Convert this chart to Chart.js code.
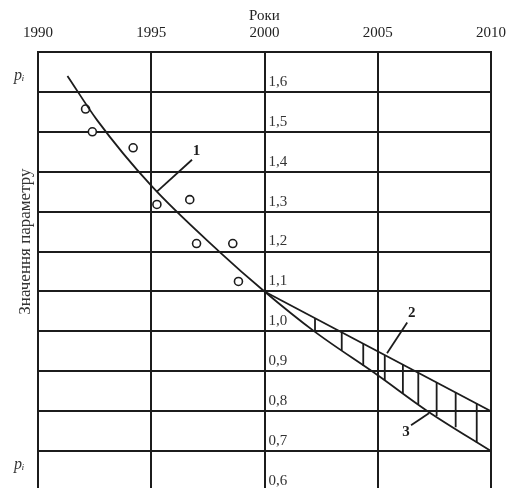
<!DOCTYPE html>
<html><head><meta charset="utf-8">
<script src="https://cdn.jsdelivr.net/npm/chart.js@4/dist/chart.umd.min.js"></script>
<style>html,body{margin:0;padding:0;background:#fff;overflow:hidden}canvas{display:block}</style>
</head><body>
<canvas id="c" width="508" height="488"></canvas>
<script>
// ---- data ----
const xTickYears = [1990, 1995, 2000, 2005, 2010];
const yTickValues = [0.6, 0.7, 0.8, 0.9, 1.0, 1.1, 1.2, 1.3, 1.4, 1.5, 1.6];
const yTickLabels = ['0,6', '0,7', '0,8', '0,9', '1,0', '1,1', '1,2', '1,3', '1,4', '1,5', '1,6'];
const pMarkValues = [0.665, 1.64];
const pMarkLabels = ['pᵢ', 'pᵢ'];
const curveYears = [1991.3, 1992.6, 1995.0, 1998.0, 2000.0, 2002.2, 2005.0, 2007.2, 2010.0];
const curveValues = [1.64, 1.53, 1.365, 1.20, 1.10, 1.00, 0.89, 0.80, 0.70];
const line2Years = [2000, 2010];
const line2Values = [1.10, 0.80];
const hatchYears = [2002.23, 2003.41, 2004.36, 2005.31, 2006.11, 2006.79, 2007.60, 2008.44, 2009.37];
const hatchTop = [1.033, 0.998, 0.969, 0.941, 0.917, 0.896, 0.872, 0.847, 0.819];
const hatchBottom = [1.001, 0.952, 0.914, 0.877, 0.845, 0.818, 0.788, 0.760, 0.721];
const obsYears = [1992.1, 1992.4, 1994.2, 1995.25, 1996.7, 1997.0, 1998.6, 1998.85];
const obsValues = [1.557, 1.50, 1.46, 1.318, 1.33, 1.22, 1.22, 1.125];
const calloutLabels = ['1', '2', '3'];
const calloutTextYears = [1997.0, 2006.5, 2006.25];
const calloutTextValues = [1.452, 1.045, 0.748];
const leaderFromYears = [1995.25, 2005.41, 2006.47];
const leaderFromValues = [1.35, 0.945, 0.765];
const leaderToYears = [1996.80, 2006.30, 2007.26];
const leaderToValues = [1.43, 1.0225, 0.795];
const yTitle = 'Значення параметру';
const xTitle = 'Роки';

const INK = '#1c1c1c';
const SERIF = "'Liberation Serif', 'Times New Roman', serif";

const pts = (xs, ys) => xs.map((x, i) => ({x: x, y: ys[i]}));
const lineDs = (data, w) => ({type: 'line', data, borderColor: INK, borderWidth: w, pointRadius: 0, fill: false, tension: 0});

const datasets = [];
datasets.push(Object.assign(lineDs(pts(curveYears, curveValues), 1.8), {tension: 0.4, cubicInterpolationMode: 'monotone'}));
datasets.push(lineDs(pts(line2Years, line2Values), 1.8));
hatchYears.forEach((yr, i) => datasets.push(lineDs([{x: yr, y: hatchTop[i]}, {x: yr, y: hatchBottom[i]}], 1.8)));
leaderFromYears.forEach((yr, i) => datasets.push(lineDs([{x: yr, y: leaderFromValues[i]}, {x: leaderToYears[i], y: leaderToValues[i]}], 1.8)));
datasets.push({type: 'line', data: pts(obsYears, obsValues), showLine: false, pointRadius: 4, pointBorderWidth: 1.6,
  pointBorderColor: INK, pointBackgroundColor: '#fff', pointStyle: 'circle'});

const textPlugin = {
  id: 'texts',
  afterLayout(chart) {
    // the plot area runs on past the lower edge of the picture (0,6 line just below it)
    const b = chart.height + 3;
    chart.chartArea.bottom = b;
    chart.chartArea.height = b - chart.chartArea.top;
    ['y', 'yv', 'yp'].forEach(id => {
      const s = chart.scales[id];
      s.bottom = b; s.height = b - s.top; s.configure();
    });
  },
  afterDatasetsDraw(chart) {
    const {ctx, scales: {x, y}} = chart;
    ctx.save();
    ctx.fillStyle = INK;
    ctx.font = 'bold 15px ' + SERIF;
    ctx.textAlign = 'center';
    ctx.textBaseline = 'middle';
    calloutLabels.forEach((t, i) => ctx.fillText(t, x.getPixelForValue(calloutTextYears[i]), y.getPixelForValue(calloutTextValues[i])));
    // vertical axis title, placed along the left axis
    ctx.fillStyle = '#333';
    ctx.font = '17px ' + SERIF;
    ctx.translate(y.right - 12, y.getPixelForValue(1.225));
    ctx.rotate(-Math.PI / 2);
    ctx.fillText(yTitle, 0, 0);
    ctx.restore();
  }
};

const noPad = s => { s.paddingTop = 0; s.paddingBottom = 0; s.paddingLeft = 0; s.paddingRight = 0; };

new Chart(document.getElementById('c'), {
  data: {datasets},
  plugins: [textPlugin],
  options: {
    responsive: false,
    devicePixelRatio: 1,
    animation: false,
    layout: {padding: {top: 0, left: 0, right: 17, bottom: 0}},
    plugins: {legend: {display: false}, tooltip: {enabled: false}},
    scales: {
      x: {
        type: 'linear', position: 'top', min: 1990, max: 2010,
        afterBuildTicks: s => { s.ticks = xTickYears.map(v => ({value: v})); },
        afterFit: s => { s.height = 52; noPad(s); },
        ticks: {padding: 10, color: '#222', font: {family: SERIF, size: 15}, callback: v => String(v)},
        grid: {color: INK, lineWidth: 2, drawTicks: false},
        border: {color: INK, width: 2},
        title: {display: true, text: xTitle, color: '#222', font: {family: SERIF, size: 15}, padding: {top: 7, bottom: 0}}
      },
      y: {
        type: 'linear', position: 'left', min: 0.6, max: 1.7,
        afterBuildTicks: s => { s.ticks = yTickValues.concat([1.7]).map(v => ({value: v})); },
        afterFit: s => { s.width = 38; noPad(s); },
        ticks: {display: false},
        grid: {color: INK, lineWidth: 2, drawTicks: false},
        border: {color: INK, width: 2}
      },
      yv: {
        type: 'linear', position: {x: 2001.0}, min: 0.6, max: 1.7,
        afterBuildTicks: s => { s.ticks = yTickValues.map(v => ({value: v})); },
        afterFit: s => noPad(s),
        ticks: {padding: 0, labelOffset: -10, color: '#333', font: {family: SERIF, size: 15},
          callback: (v, i) => yTickLabels[i]},
        grid: {display: false, drawTicks: false},
        border: {display: false}
      },
      yp: {
        type: 'linear', position: {x: 1989.4}, min: 0.6, max: 1.7,
        afterBuildTicks: s => { s.ticks = pMarkValues.map(v => ({value: v})); },
        afterFit: s => noPad(s),
        ticks: {padding: 0, color: '#333', font: {family: SERIF, size: 16, style: 'italic'},
          callback: (v, i) => pMarkLabels[i]},
        grid: {display: false, drawTicks: false},
        border: {display: false}
      }
    }
  }
});
</script>
</body></html>
